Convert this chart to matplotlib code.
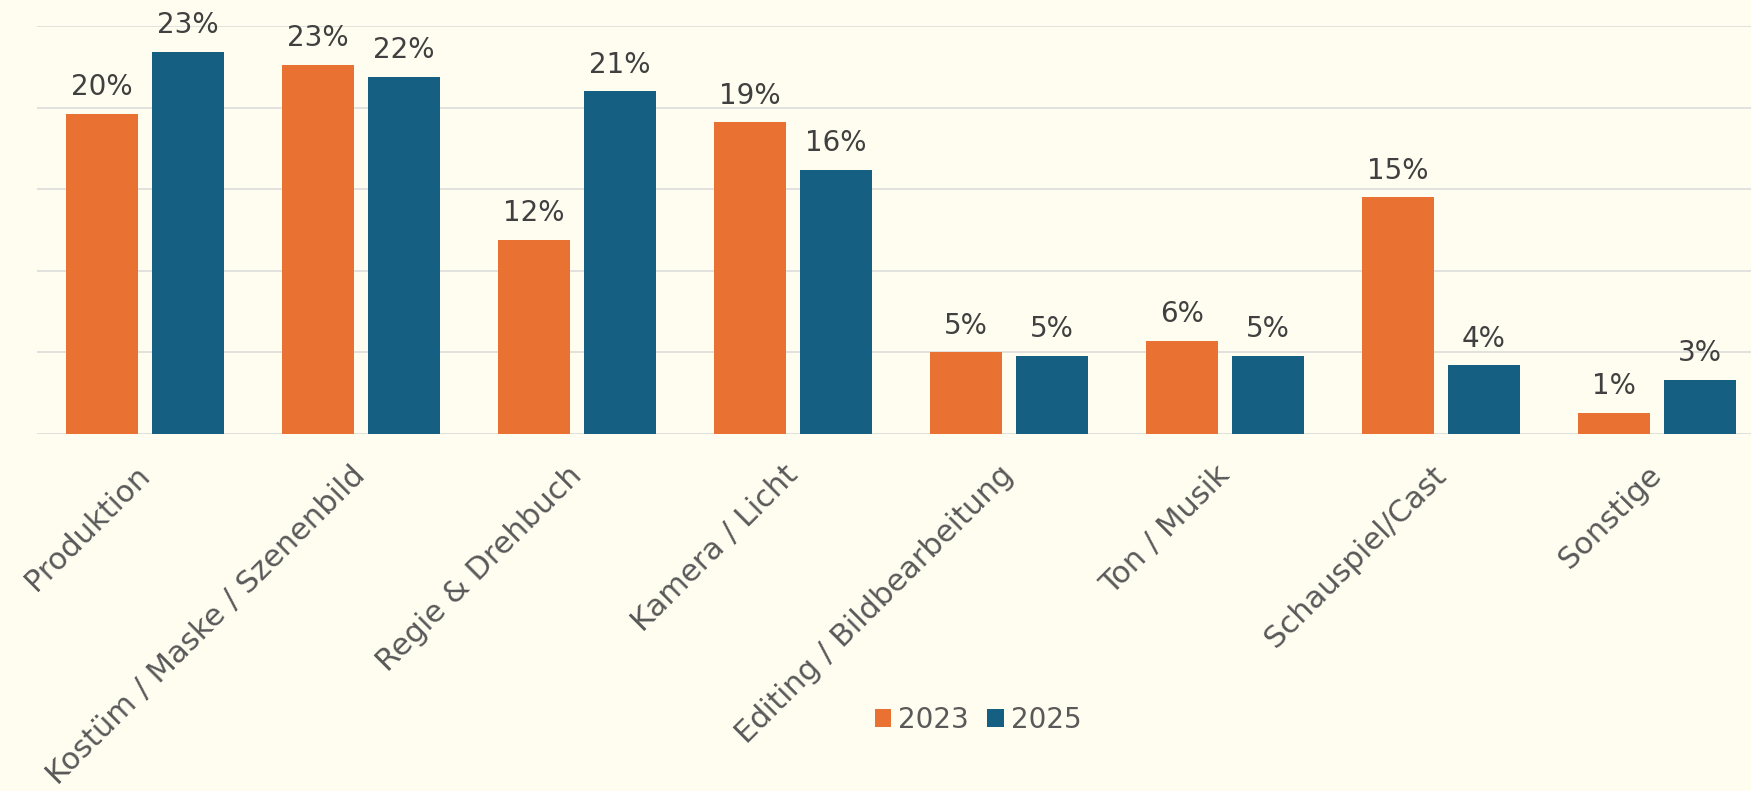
import matplotlib
matplotlib.use("Agg")
import matplotlib.pyplot as plt
import matplotlib.transforms as mtransforms
import numpy as np

# Data (percent)
categories = ['Produktion', 'Kostüm / Maske / Szenenbild', 'Regie & Drehbuch',
              'Kamera / Licht', 'Editing / Bildbearbeitung', 'Ton / Musik',
              'Schauspiel/Cast', 'Sonstige']
values_2023 = [19.6, 22.6, 11.9, 19.1, 5.0, 5.7, 14.5, 1.3]
values_2025 = [23.4, 21.9, 21.0, 16.2, 4.8, 4.8, 4.2, 3.3]
labels_2023 = ['20%', '23%', '12%', '19%', '5%', '6%', '15%', '1%']
labels_2025 = ['23%', '22%', '21%', '16%', '5%', '5%', '4%', '3%']

bg = '#FFFDF0'
orange = '#E97132'
blue = '#156082'

plt.rcParams['font.family'] = ['DejaVu Sans']

fig = plt.figure(figsize=(17.51, 7.91), dpi=100, facecolor=bg)
ax = fig.add_axes([0.021, 0.4513, 0.9869, 0.5158], facecolor=bg)

x = np.arange(len(categories))
w = 0.333
bars1 = ax.bar(x - 0.2, values_2023, w, color=orange, label='2023', zorder=3)
bars2 = ax.bar(x + 0.2, values_2025, w, color=blue, label='2025', zorder=3)

# Data labels
for bars, labs in [(bars1, labels_2023), (bars2, labels_2025)]:
    for b, lab in zip(bars, labs):
        ax.annotate(lab, (b.get_x() + b.get_width() / 2, b.get_height()),
                    xytext=(0, 13.5), textcoords='offset points',
                    ha='center', va='baseline', fontsize=20, color='#404040',
                    clip_on=False)

ax.set_xlim(-0.5, 7.5)
ax.set_ylim(0, 25)
ax.set_yticks([0, 5, 10, 15, 20, 25])
ax.yaxis.grid(True, color='#D9D9D9', linewidth=1.1, zorder=0)
ax.set_yticklabels([])
ax.tick_params(axis='y', length=0)
for s in ax.spines.values():
    s.set_visible(False)

ax.set_xticks(x)
ax.set_xticklabels(categories, rotation=45, ha='right', va='top',
                   rotation_mode='anchor', fontsize=22, color='#595959')
ax.tick_params(axis='x', length=0, pad=19)
shift = mtransforms.ScaledTranslation(-10 / 100, 0, fig.dpi_scale_trans)
for lbl in ax.get_xticklabels():
    lbl.set_transform(lbl.get_transform() + shift)

fig.legend(loc='center', bbox_to_anchor=(0.5585, 0.0897), ncol=2, frameon=False,
           fontsize=20, labelcolor='#595959', handlelength=0.6, handleheight=0.6,
           handletextpad=0.25, columnspacing=0.65)

fig.savefig('out.png', dpi=100, facecolor=bg)
